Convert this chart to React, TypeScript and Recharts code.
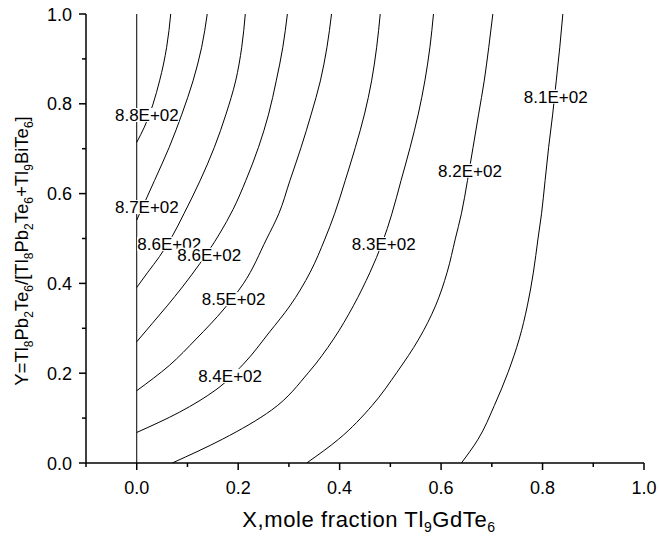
import React from "react";
import {
  ComposedChart,
  Line,
  Scatter,
  XAxis,
  YAxis,
} from "recharts";

// Contour lines (x = mole fraction, y = ratio)
const curve88 = [
  { x: 0, y: 0.714 },
  { x: 0.015, y: 0.748 },
  { x: 0.045, y: 0.851 },
  { x: 0.059, y: 0.926 },
  { x: 0.067, y: 1.0 },
];
const curve87 = [
  { x: 0, y: 0.541 },
  { x: 0.035, y: 0.629 },
  { x: 0.064, y: 0.703 },
  { x: 0.089, y: 0.777 },
  { x: 0.111, y: 0.851 },
  { x: 0.128, y: 0.926 },
  { x: 0.139, y: 1.0 },
];
const curve86a = [
  { x: 0, y: 0.391 },
  { x: 0.022, y: 0.425 },
  { x: 0.045, y: 0.46 },
  { x: 0.07, y: 0.505 },
  { x: 0.093, y: 0.555 },
  { x: 0.125, y: 0.629 },
  { x: 0.153, y: 0.703 },
  { x: 0.176, y: 0.777 },
  { x: 0.195, y: 0.851 },
  { x: 0.207, y: 0.926 },
  { x: 0.214, y: 1.0 },
];
const curve86b = [
  { x: 0, y: 0.27 },
  { x: 0.03, y: 0.31 },
  { x: 0.06, y: 0.35 },
  { x: 0.09, y: 0.392 },
  { x: 0.125, y: 0.445 },
  { x: 0.163, y: 0.51 },
  { x: 0.19, y: 0.565 },
  { x: 0.215, y: 0.629 },
  { x: 0.24, y: 0.703 },
  { x: 0.26, y: 0.777 },
  { x: 0.275, y: 0.851 },
  { x: 0.288, y: 0.926 },
  { x: 0.297, y: 1.0 },
];
const curve85 = [
  { x: 0, y: 0.161 },
  { x: 0.064, y: 0.217 },
  { x: 0.117, y: 0.276 },
  { x: 0.172, y: 0.343 },
  { x: 0.21, y: 0.399 },
  { x: 0.256, y: 0.499 },
  { x: 0.28, y: 0.555 },
  { x: 0.302, y: 0.629 },
  { x: 0.324, y: 0.703 },
  { x: 0.344, y: 0.777 },
  { x: 0.362, y: 0.851 },
  { x: 0.375, y: 0.926 },
  { x: 0.384, y: 1.0 },
];
const curve84 = [
  { x: 0, y: 0.068 },
  { x: 0.084, y: 0.113 },
  { x: 0.156, y: 0.163 },
  { x: 0.21, y: 0.22 },
  { x: 0.262, y: 0.292 },
  { x: 0.302, y: 0.35 },
  { x: 0.342, y: 0.425 },
  { x: 0.371, y: 0.499 },
  { x: 0.39, y: 0.555 },
  { x: 0.411, y: 0.629 },
  { x: 0.431, y: 0.703 },
  { x: 0.449, y: 0.777 },
  { x: 0.463, y: 0.851 },
  { x: 0.473, y: 0.926 },
  { x: 0.48, y: 1.0 },
];
const curve83 = [
  { x: 0.07, y: 0 },
  { x: 0.169, y: 0.053 },
  { x: 0.266, y: 0.118 },
  { x: 0.339, y: 0.202 },
  { x: 0.388, y: 0.276 },
  { x: 0.427, y: 0.35 },
  { x: 0.46, y: 0.425 },
  { x: 0.484, y: 0.49 },
  { x: 0.503, y: 0.555 },
  { x: 0.521, y: 0.629 },
  { x: 0.539, y: 0.703 },
  { x: 0.555, y: 0.777 },
  { x: 0.568, y: 0.851 },
  { x: 0.578, y: 0.926 },
  { x: 0.585, y: 1.0 },
];
const curve82 = [
  { x: 0.335, y: 0 },
  { x: 0.398, y: 0.053 },
  { x: 0.464, y: 0.128 },
  { x: 0.513, y: 0.202 },
  { x: 0.556, y: 0.276 },
  { x: 0.589, y: 0.35 },
  { x: 0.612, y: 0.425 },
  { x: 0.628, y: 0.499 },
  { x: 0.64, y: 0.555 },
  { x: 0.652, y: 0.629 },
  { x: 0.663, y: 0.703 },
  { x: 0.674, y: 0.777 },
  { x: 0.685, y: 0.851 },
  { x: 0.694, y: 0.926 },
  { x: 0.702, y: 1.0 },
];
const curve81 = [
  { x: 0.64, y: 0 },
  { x: 0.673, y: 0.053 },
  { x: 0.705, y: 0.128 },
  { x: 0.732, y: 0.202 },
  { x: 0.754, y: 0.276 },
  { x: 0.77, y: 0.35 },
  { x: 0.782, y: 0.425 },
  { x: 0.791, y: 0.499 },
  { x: 0.798, y: 0.555 },
  { x: 0.805, y: 0.629 },
  { x: 0.812, y: 0.703 },
  { x: 0.82, y: 0.777 },
  { x: 0.827, y: 0.851 },
  { x: 0.834, y: 0.926 },
  { x: 0.84, y: 1.0 },
];
const boundary = [
  { x: 0, y: 0 },
  { x: 0, y: 1 },
];

const curves = [curve88, curve87, curve86a, curve86b, curve85, curve84, curve83, curve82, curve81];

const contourLabels = [
  { x: 0.02, y: 0.775, text: "8.8E+02" },
  { x: 0.02, y: 0.57, text: "8.7E+02" },
  { x: 0.064, y: 0.488, text: "8.6E+02" },
  { x: 0.143, y: 0.464, text: "8.6E+02" },
  { x: 0.191, y: 0.365, text: "8.5E+02" },
  { x: 0.184, y: 0.194, text: "8.4E+02" },
  { x: 0.487, y: 0.488, text: "8.3E+02" },
  { x: 0.657, y: 0.651, text: "8.2E+02" },
  { x: 0.826, y: 0.816, text: "8.1E+02" },
];

const xTicks = [-0.1, 0, 0.1, 0.2, 0.3, 0.4, 0.5, 0.6, 0.7, 0.8, 0.9, 1.0];
const yTicks = [0, 0.1, 0.2, 0.3, 0.4, 0.5, 0.6, 0.7, 0.8, 0.9, 1.0];

const xTitle: [string, boolean][] = [
  ["X,mole fraction Tl", false],
  ["9", true],
  ["GdTe", false],
  ["6", true],
];
const yTitle: [string, boolean][] = [
  ["Y=Tl", false], ["8", true], ["Pb", false], ["2", true], ["Te", false], ["6", true],
  ["/[Tl", false], ["8", true], ["Pb", false], ["2", true], ["Te", false], ["6", true],
  ["+Tl", false], ["9", true], ["BiTe", false], ["6", true], ["]", false],
];

const FONT = "'Liberation Sans', Arial, sans-serif";

const isMajor = (v: number) => Math.abs(Math.round(v * 10)) % 2 === 0;

const XTick = (props: any) => {
  const { x, y, payload } = props;
  const v = payload.value;
  const major = isMajor(v);
  return (
    <g>
      <line x1={x} x2={x} y1={y} y2={y + (major ? 7 : 4)} stroke="#000" strokeWidth={1.5} />
      {major && (
        <text x={x} y={y + 31} textAnchor="middle" fontSize={18} fontFamily={FONT} fill="#000">
          {v.toFixed(1)}
        </text>
      )}
    </g>
  );
};

const YTick = (props: any) => {
  const { x, y, payload } = props;
  const v = payload.value;
  const major = isMajor(v);
  return (
    <g>
      <line x1={x} x2={x - (major ? 7 : 4)} y1={y} y2={y} stroke="#000" strokeWidth={1.5} />
      {major && (
        <text x={x - 14} y={y + 6.5} textAnchor="end" fontSize={18} fontFamily={FONT} fill="#000">
          {v.toFixed(1)}
        </text>
      )}
    </g>
  );
};

function titleSpans(parts: [string, boolean][], size: number) {
  const sub = Math.round(size * 0.65);
  let shifted = false;
  return parts.map(([t, s], i) => {
    let dy = 0;
    if (s && !shifted) { dy = 5; shifted = true; }
    else if (!s && shifted) { dy = -5; shifted = false; }
    return (
      <tspan key={i} dy={dy} fontSize={s ? sub : size}>
        {t}
      </tspan>
    );
  });
}

const XTitle = (props: any) => {
  const vb = props.viewBox || { x: 86, y: 463, width: 558 };
  return (
    <text
      x={vb.x + vb.width / 2 + 4}
      y={vb.y + 64}
      textAnchor="middle"
      fontFamily={FONT}
      letterSpacing={0.6}
      fill="#000"
    >
      {titleSpans(xTitle, 22)}
    </text>
  );
};

const YTitle = () => (
  <text x={28} y={251} transform="rotate(-90, 28, 251)" textAnchor="middle" fontFamily={FONT} fill="#000">
    {titleSpans(yTitle, 18.5)}
  </text>
);

const ContourLabel = (props: any) => {
  const { cx, cy, payload } = props;
  return (
    <g>
      <rect x={cx - 32} y={cy - 7} width={64} height={14} fill="#fff" />
      <text x={cx} y={cy + 6} textAnchor="middle" fontSize={17} fontFamily={FONT} fill="#000">
        {payload.text}
      </text>
    </g>
  );
};

export default function App() {
  return (
    <div style={{ position: "absolute", left: 0, top: 0, background: "#fff" }}>
      <ComposedChart
        width={659}
        height={543}
        margin={{ top: 14, right: 15, bottom: 20, left: 16 }}
      >
        <XAxis
          dataKey="x"
          type="number"
          domain={[-0.1, 1]}
          ticks={xTicks}
          allowDataOverflow
          height={60}
          tickSize={0}
          tickMargin={0}
          tick={<XTick />}
          axisLine={{ stroke: "#000", strokeWidth: 1.5 }}
          label={{ content: <XTitle /> }}
        />
        <XAxis
          xAxisId="top"
          orientation="top"
          type="number"
          domain={[-0.1, 1]}
          height={0}
          tick={false}
          tickLine={false}
          axisLine={{ stroke: "#000", strokeWidth: 1.5 }}
        />
        <YAxis
          dataKey="y"
          type="number"
          domain={[0, 1]}
          ticks={yTicks}
          allowDataOverflow
          width={70}
          tickSize={0}
          tickMargin={0}
          tick={<YTick />}
          axisLine={{ stroke: "#000", strokeWidth: 1.5 }}
          label={{ content: <YTitle /> }}
        />
        <YAxis
          yAxisId="right"
          orientation="right"
          type="number"
          domain={[0, 1]}
          width={0}
          tick={false}
          tickLine={false}
          axisLine={{ stroke: "#000", strokeWidth: 1.5 }}
        />
        <Line
          data={boundary}
          dataKey="y"
          type="linear"
          stroke="#000"
          strokeWidth={1}
          dot={false}
          isAnimationActive={false}
        />
        {curves.map((c, i) => (
          <Line
            key={i}
            data={c}
            dataKey="y"
            type="monotoneY"
            stroke="#000"
            strokeWidth={1}
            dot={false}
            isAnimationActive={false}
          />
        ))}
        <Scatter
          data={contourLabels}
          dataKey="y"
          shape={<ContourLabel />}
          isAnimationActive={false}
        />
      </ComposedChart>
    </div>
  );
}
